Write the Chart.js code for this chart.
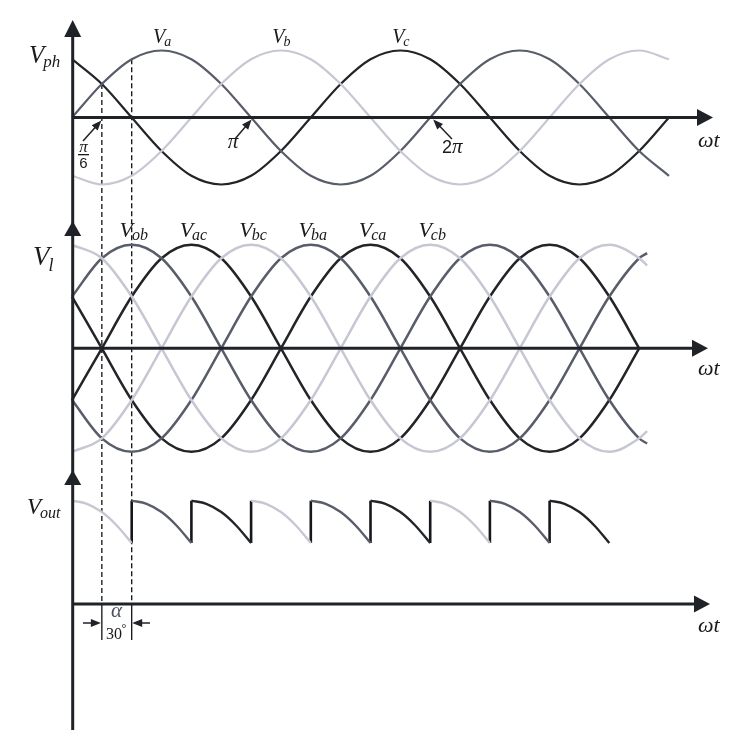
<!DOCTYPE html>
<html>
<head>
<meta charset="utf-8">
<script src="https://cdn.jsdelivr.net/npm/chart.js@4.4.1/dist/chart.umd.min.js"></script>
<style>
  html, body { margin: 0; padding: 0; background: #ffffff; }
  #wrap { width: 750px; height: 737px; }
</style>
</head>
<body>
<div id="wrap"><canvas id="chart"></canvas></div>
<script>
// phase voltages, per unit, every 30 degrees of wt
const phaseAngles = [0, 30, 60, 90, 120, 150, 180, 210, 240, 270, 300, 330, 360, 390, 420, 450, 480, 510, 540, 570, 600];
const va = [0, 0.5, 0.87, 1, 0.87, 0.5, 0, -0.5, -0.87, -1, -0.87, -0.5, 0, 0.5, 0.87, 1, 0.87, 0.5, 0, -0.5, -0.87];
const vb = [-0.87, -1, -0.87, -0.5, 0, 0.5, 0.87, 1, 0.87, 0.5, 0, -0.5, -0.87, -1, -0.87, -0.5, 0, 0.5, 0.87, 1, 0.87];
const vc = [0.87, 0.5, 0, -0.5, -0.87, -1, -0.87, -0.5, 0, 0.5, 0.87, 1, 0.87, 0.5, 0, -0.5, -0.87, -1, -0.87, -0.5, 0];

// line voltages (per unit of line peak)
const lineAngles = [0, 30, 60, 90, 120, 150, 180, 210, 240, 270, 300, 330, 360, 390, 420, 450, 480, 510, 540, 570, 578];
const vab = [0.5, 0.87, 1, 0.87, 0.5, 0, -0.5, -0.87, -1, -0.87, -0.5, 0, 0.5, 0.87, 1, 0.87, 0.5, 0, -0.5, -0.87, -0.92];
const vba = [-0.5, -0.87, -1, -0.87, -0.5, 0, 0.5, 0.87, 1, 0.87, 0.5, 0, -0.5, -0.87, -1, -0.87, -0.5, 0, 0.5, 0.87, 0.92];
const vac = [-0.5, 0, 0.5, 0.87, 1, 0.87, 0.5, 0, -0.5, -0.87, -1, -0.87, -0.5, 0, 0.5, 0.87, 1, 0.87, 0.5, 0, null];
const vca = [0.5, 0, -0.5, -0.87, -1, -0.87, -0.5, 0, 0.5, 0.87, 1, 0.87, 0.5, 0, -0.5, -0.87, -1, -0.87, -0.5, 0, null];
const vbc = [-1, -0.87, -0.5, 0, 0.5, 0.87, 1, 0.87, 0.5, 0, -0.5, -0.87, -1, -0.87, -0.5, 0, 0.5, 0.87, 1, 0.87, 0.8];
const vcb = [1, 0.87, 0.5, 0, -0.5, -0.87, -1, -0.87, -0.5, 0, 0.5, 0.87, 1, 0.87, 0.5, 0, -0.5, -0.87, -1, -0.87, -0.8];

// output voltage: one 60 deg arc, repeated after every firing (alpha = 30 deg)
const outSteps = [0, 15, 30, 45, 60];
const outShape = [1, 0.97, 0.89, 0.76, 0.59];
const outLightStarts = [0, 180, 360];
const outMidStarts = [60, 240, 420];
const outDarkStarts = [120, 300, 480];
const outJumps = [60, 120, 180, 240, 300, 360, 420, 480];

const phaseNames = ['a', 'b', 'c'];
const phasePeaks = [90, 210, 330];
const lineNames = ['ob', 'ac', 'bc', 'ba', 'ca', 'cb'];
const linePeaks = [60, 120, 180, 240, 300, 360];
const guideAngles = [30, 60];

const DARK = '#222428';
const MID = '#585d69';
const LIGHT = '#c7c7d3';
const INK = '#1f2226';
const SERIF = '"Liberation Serif", "DejaVu Serif", serif';

function pts(xs, ys) {
  return xs.map((x, i) => ({ x: x, y: ys[i] }));
}
function arcs(starts) {
  const out = [];
  starts.forEach(s => {
    outSteps.forEach((d, i) => out.push({ x: s + d, y: outShape[i] }));
    out.push({ x: s + 60, y: null });
  });
  return out;
}
function jumps() {
  const out = [];
  outJumps.forEach(a => {
    out.push({ x: a, y: outShape[outShape.length - 1] });
    out.push({ x: a, y: outShape[0] });
    out.push({ x: a, y: null });
  });
  return out;
}

function curve(data, color, axis, width) {
  return {
    data: data, yAxisID: axis, borderColor: color, borderWidth: width,
    pointRadius: 0, fill: false, cubicInterpolationMode: 'monotone', spanGaps: false
  };
}

function arrowHead(ctx, tx, ty, ux, uy, len, half) {
  const bx = tx - ux * len, by = ty - uy * len;
  ctx.beginPath();
  ctx.moveTo(tx, ty);
  ctx.lineTo(bx - uy * half, by + ux * half);
  ctx.lineTo(bx + uy * half, by - ux * half);
  ctx.closePath();
  ctx.fill();
}
function pointer(ctx, x1, y1, x2, y2) {
  const d = Math.hypot(x2 - x1, y2 - y1), ux = (x2 - x1) / d, uy = (y2 - y1) / d;
  ctx.lineWidth = 1.5;
  ctx.beginPath();
  ctx.moveTo(x1, y1);
  ctx.lineTo(x2 - ux * 6, y2 - uy * 6);
  ctx.stroke();
  arrowHead(ctx, x2, y2, ux, uy, 10, 4);
}
function subLabel(ctx, base, sub, x, y, size, subSize, drop, centered) {
  ctx.font = 'italic ' + size + 'px ' + SERIF;
  const w1 = ctx.measureText(base).width;
  ctx.font = 'italic ' + subSize + 'px ' + SERIF;
  const w2 = ctx.measureText(sub).width;
  const left = centered ? x - (w1 + w2) / 2 : x;
  ctx.textAlign = 'left';
  ctx.font = 'italic ' + size + 'px ' + SERIF;
  ctx.fillText(base, left, y);
  ctx.font = 'italic ' + subSize + 'px ' + SERIF;
  ctx.fillText(sub, left + w1 - 1, y + drop);
}

const diagram = {
  id: 'diagram',
  beforeDatasetsDraw(chart) {
    const ctx = chart.ctx;
    const px = v => chart.scales.x.getPixelForValue(v);
    const yT = v => chart.scales.yTop.getPixelForValue(v);
    const yB = v => chart.scales.yBot.getPixelForValue(v);
    ctx.save();
    ctx.strokeStyle = '#111';
    ctx.lineWidth = 1.3;
    ctx.setLineDash([5, 3]);
    const starts = [yT(0.5), yT(0.87)];
    guideAngles.forEach((a, i) => {
      ctx.beginPath();
      ctx.moveTo(px(a), starts[i]);
      ctx.lineTo(px(a), yB(0));
      ctx.stroke();
    });
    ctx.setLineDash([]);
    guideAngles.forEach(a => {
      ctx.beginPath();
      ctx.moveTo(px(a), yB(0));
      ctx.lineTo(px(a), yB(0) + 36);
      ctx.stroke();
    });
    ctx.restore();
  },
  afterDatasetsDraw(chart) {
    const ctx = chart.ctx;
    const px = v => chart.scales.x.getPixelForValue(v);
    const yT = v => chart.scales.yTop.getPixelForValue(v);
    const yM = v => chart.scales.yMid.getPixelForValue(v);
    const yB = v => chart.scales.yBot.getPixelForValue(v);
    const x0 = px(0) + 0.7;
    ctx.save();
    ctx.fillStyle = INK;
    ctx.strokeStyle = INK;

    // vertical axis with its three arrow heads
    ctx.lineWidth = 3;
    ctx.beginPath();
    ctx.moveTo(x0, 30);
    ctx.lineTo(x0, 730);
    ctx.stroke();
    [[20, 17], [221, 15], [470, 15]].forEach(a => arrowHead(ctx, x0, a[0], 0, -1, a[1], 8.5));

    // horizontal wt axes
    [[yT(0), 713], [yM(0), 708], [yB(0), 710]].forEach(a => {
      ctx.lineWidth = 3;
      ctx.beginPath();
      ctx.moveTo(x0, a[0]);
      ctx.lineTo(a[1] - 12, a[0]);
      ctx.stroke();
      arrowHead(ctx, a[1], a[0], 1, 0, 16, 8.5);
    });

    ctx.textBaseline = 'alphabetic';
    ctx.fillStyle = '#1a1a1a';
    ctx.font = 'italic 22px ' + SERIF;
    ctx.textAlign = 'left';
    [yT(0) + 29, yM(0) + 27, yB(0) + 28].forEach(y => ctx.fillText('\u03c9t', 698, y));

    // axis names
    subLabel(ctx, 'V', 'ph', 29, 63, 25, 17, 4, false);
    subLabel(ctx, 'V', 'l', 33, 265, 27, 18, 6, false);
    subLabel(ctx, 'V', 'out', 27, 514, 23, 16, 4, false);

    // curve names
    phaseNames.forEach((n, i) => subLabel(ctx, 'V', n, px(phasePeaks[i]) + 1, 43, 20, 14, 3, true));
    lineNames.forEach((n, i) => subLabel(ctx, 'V', n, px(linePeaks[i]) + 2.5, 237, 22, 16, 3, true));

    // angle markers on the phase axis
    ctx.fillStyle = INK;
    pointer(ctx, 83, 141, px(30) - 0.5, yT(0) + 3);
    pointer(ctx, 235, 139, px(180) + 0.5, yT(0) + 2);
    pointer(ctx, 452, 139, px(360) + 3, yT(0) + 2);
    ctx.fillStyle = '#1a1a1a';
    ctx.textAlign = 'center';
    ctx.font = 'italic 17px ' + SERIF;
    ctx.fillText('\u03c0', 83.5, 152);
    ctx.fillRect(78, 154, 11, 1.3);
    ctx.font = '15px "Liberation Sans", sans-serif';
    ctx.fillText('6', 83.5, 168);
    ctx.font = 'italic 21px ' + SERIF;
    ctx.fillText('\u03c0', 233, 148);
    ctx.textAlign = 'left';
    ctx.font = '18px "Liberation Sans", sans-serif';
    ctx.fillText('2', 442, 153);
    ctx.font = 'italic 21px ' + SERIF;
    ctx.fillText('\u03c0', 452, 153);

    // firing angle dimension
    ctx.fillStyle = INK;
    pointer(ctx, 83, 623, px(30) - 1, 623);
    pointer(ctx, 150, 623, px(60) + 0.5, 623);
    ctx.fillStyle = '#4b5060';
    ctx.textAlign = 'center';
    ctx.font = 'italic 21px ' + SERIF;
    ctx.fillText('\u03b1', 116.5, 617);
    ctx.fillStyle = '#1a1a1a';
    ctx.font = '16px ' + SERIF;
    ctx.fillText('30', 114, 639);
    ctx.font = '12px ' + SERIF;
    ctx.fillText('\u00b0', 124, 632);
    ctx.restore();
  }
};

new Chart(document.getElementById('chart'), {
  type: 'line',
  data: {
    datasets: [
      curve(pts(phaseAngles, vb), LIGHT, 'yTop', 2.2),
      curve(pts(phaseAngles, va), MID, 'yTop', 2.2),
      curve(pts(phaseAngles, vc), DARK, 'yTop', 2.2),
      curve(pts(lineAngles, vbc), LIGHT, 'yMid', 2.5),
      curve(pts(lineAngles, vcb), LIGHT, 'yMid', 2.5),
      curve(pts(lineAngles, vab), MID, 'yMid', 2.5),
      curve(pts(lineAngles, vba), MID, 'yMid', 2.5),
      curve(pts(lineAngles, vac), DARK, 'yMid', 2.5),
      curve(pts(lineAngles, vca), DARK, 'yMid', 2.5),
      curve(arcs(outLightStarts), LIGHT, 'yBot', 2.4),
      curve(arcs(outMidStarts), MID, 'yBot', 2.4),
      curve(arcs(outDarkStarts), DARK, 'yBot', 2.4),
      Object.assign(curve(jumps(), '#15171a', 'yBot', 2.6), { cubicInterpolationMode: 'default', tension: 0 })
    ]
  },
  options: {
    responsive: true,
    maintainAspectRatio: false,
    devicePixelRatio: 1,
    animation: false,
    layout: { padding: 0 },
    plugins: { legend: { display: false }, tooltip: { enabled: false } },
    scales: {
      x: { type: 'linear', min: -72.36, max: 681.4, display: false },
      yTop: { type: 'linear', axis: 'y', min: -9.246, max: 1.7537, display: false },
      yMid: { type: 'linear', axis: 'y', min: -3.7556, max: 3.3652, display: false },
      yBot: { type: 'linear', axis: 'y', min: -1.2875, max: 5.847, display: false }
    }
  },
  plugins: [diagram]
});
</script>
</body>
</html>
